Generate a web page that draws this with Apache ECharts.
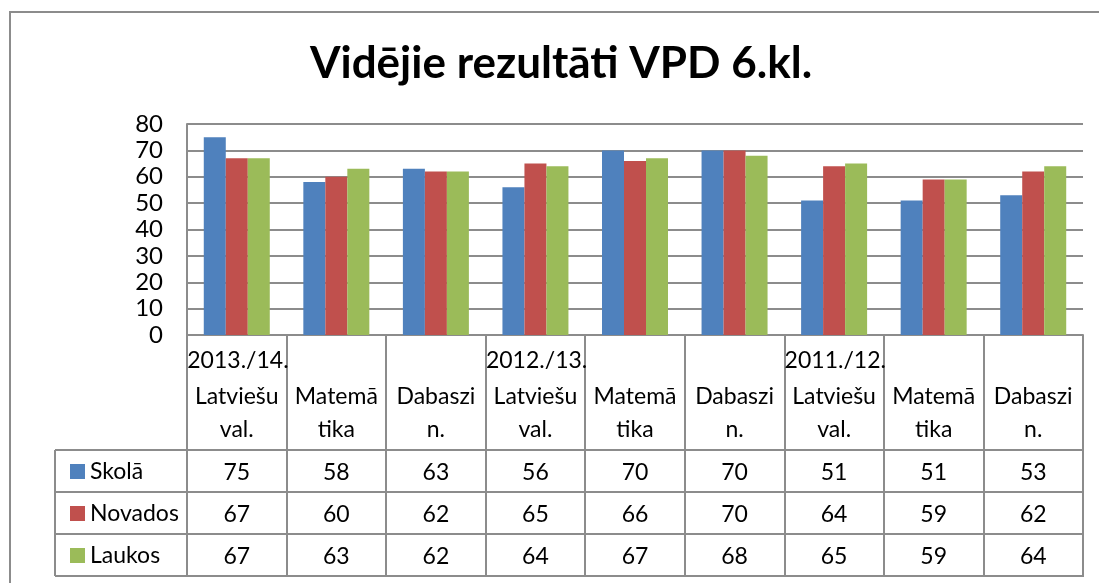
<!DOCTYPE html>
<html>
<head>
<meta charset="utf-8">
<script src="https://cdn.jsdelivr.net/npm/echarts@6/dist/echarts.min.js"></script>
<style>
html, body { margin: 0; padding: 0; background: #fff; }
#chart { width: 1099px; height: 583px; }
</style>
</head>
<body>
<div id="chart"></div>
<script>
// dati no attēla
var years = ['2013./14.', '', '', '2012./13.', '', '', '2011./12.', '', ''];
var subjects = [
  ['Latviešu', 'val.'], ['Matemā', 'tika'], ['Dabaszi', 'n.'],
  ['Latviešu', 'val.'], ['Matemā', 'tika'], ['Dabaszi', 'n.'],
  ['Latviešu', 'val.'], ['Matemā', 'tika'], ['Dabaszi', 'n.']
];
var seriesNames = ['Skolā', 'Novados', 'Laukos'];
var skola   = [75, 58, 63, 56, 70, 70, 51, 51, 53];
var novados = [67, 60, 62, 65, 66, 70, 64, 59, 62];
var laukos  = [67, 63, 62, 64, 67, 68, 65, 59, 64];
var colors = ['#4F81BD', '#C0504D', '#9BBB59'];

var rows = [skola, novados, laukos];
var cats = subjects.map(function (s, i) { return 'k' + i; });
var gray = '#8c8c8c';
var font = 'Lato';
var fs = 23;

var myChart = echarts.init(document.getElementById('chart'));

// x asis: galvene + vērtību rindas
var xAxes = [{
  type: 'category',
  data: cats,
  position: 'bottom',
  axisLine: { lineStyle: { color: gray, width: 2 } },
  axisTick: { show: true, length: 242, alignWithLabel: false, lineStyle: { color: gray, width: 2 } },
  axisLabel: {
    interval: 0,
    margin: 7,
    fontFamily: font,
    color: '#000',
    formatter: function (v, i) {
      return '{y|' + (years[i] || ' ') + '}\n{s|' + subjects[i][0] + '}\n{s|' + subjects[i][1] + '}';
    },
    rich: {
      y: { width: 99, align: 'left', fontSize: fs, lineHeight: 38, fontFamily: font, color: '#000' },
      s: { width: 99, align: 'center', fontSize: fs, lineHeight: 33, fontFamily: font, color: '#000' }
    }
  }
}];
rows.forEach(function (r, k) {
  xAxes.push({
    type: 'category',
    data: cats,
    position: 'bottom',
    offset: 126 + k * 42,
    axisLine: { show: false },
    axisTick: { show: false },
    axisLabel: {
      interval: 0,
      margin: 0,
      fontSize: fs,
      lineHeight: 23,
      fontFamily: font,
      color: '#000',
      formatter: function (v, i) { return String(r[i]); }
    }
  });
});

var option = {
  animation: false,
  textStyle: { fontFamily: font },
  title: {
    text: 'Vidējie rezultāti VPD 6.kl.',
    left: 556,
    top: 37,
    textAlign: 'center',
    textStyle: { fontSize: 44, fontWeight: 'bold', fontFamily: font, color: '#000' }
  },
  legend: {
    orient: 'vertical',
    left: 65,
    top: 453,
    itemWidth: 15,
    itemHeight: 15,
    itemGap: 15,
    selectedMode: false,
    icon: 'rect',
    data: seriesNames,
    textStyle: { fontSize: fs, lineHeight: 27, fontFamily: font, color: '#000' }
  },
  grid: { left: 187, right: 16, top: 124, bottom: 248 },
  xAxis: xAxes,
  yAxis: {
    type: 'value',
    min: 0,
    max: 80,
    interval: 10,
    axisLine: { show: true, lineStyle: { color: gray, width: 2 } },
    axisTick: { show: false },
    axisLabel: { fontSize: 24, margin: 24, color: '#000', fontFamily: font },
    splitLine: { lineStyle: { color: gray, width: 2 } }
  },
  series: seriesNames.map(function (n, k) {
    return {
      name: n,
      type: 'bar',
      data: rows[k],
      barWidth: 22,
      barGap: '0%',
      itemStyle: { color: colors[k] }
    };
  }),
  graphic: [
    { type: 'rect', shape: { x: 10, y: 12, width: 1200, height: 700 }, style: { fill: 'none', stroke: gray, lineWidth: 2 }, silent: true },
    { type: 'line', shape: { x1: 55, y1: 450, x2: 1083, y2: 450 }, style: { stroke: gray, lineWidth: 2 } },
    { type: 'line', shape: { x1: 55, y1: 492, x2: 1083, y2: 492 }, style: { stroke: gray, lineWidth: 2 } },
    { type: 'line', shape: { x1: 55, y1: 534, x2: 1083, y2: 534 }, style: { stroke: gray, lineWidth: 2 } },
    { type: 'line', shape: { x1: 55, y1: 576, x2: 1083, y2: 576 }, style: { stroke: gray, lineWidth: 2 } },
    { type: 'line', shape: { x1: 55, y1: 450, x2: 55, y2: 576 }, style: { stroke: gray, lineWidth: 2 } }
  ]
};

myChart.setOption(option);
</script>
</body>
</html>
